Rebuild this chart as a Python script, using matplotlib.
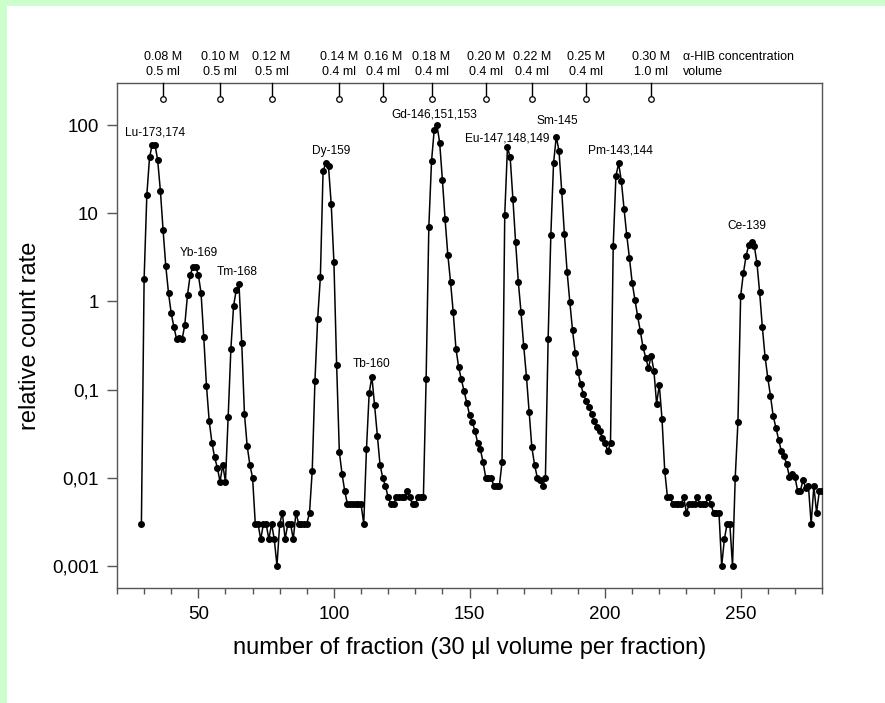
import matplotlib
matplotlib.use('Agg')
import matplotlib.pyplot as plt
import matplotlib.transforms as mtransforms
from matplotlib.patches import Rectangle

plt.rcParams['font.family'] = ['Liberation Sans', 'DejaVu Sans']

# ---------------- data ----------------
fractions = list(range(29, 281))
count_rate = [
    0.003, 1.8, 16, 43, 60, 60, 40, 18, 6.4, 2.5,                 # 29-38
    1.24, 0.73, 0.51, 0.37, 0.38, 0.37, 0.54, 1.18, 2.0, 2.45,     # 39-48
    2.45, 2.0, 1.24, 0.39, 0.11, 0.044, 0.025, 0.017, 0.013, 0.009,  # 49-58
    0.014, 0.009, 0.049, 0.29, 0.89, 1.36, 1.56, 0.34, 0.053, 0.023,  # 59-68
    0.014, 0.010, 0.003, 0.003, 0.002, 0.003, 0.003, 0.002, 0.003, 0.002,  # 69-78
    0.001, 0.003, 0.004, 0.002, 0.003, 0.003, 0.002, 0.004, 0.003, 0.003,  # 79-88
    0.003, 0.003, 0.004, 0.012, 0.125, 0.63, 1.88, 30, 37, 34,     # 89-98
    12.7, 2.77, 0.19, 0.0195, 0.011, 0.007, 0.005, 0.005, 0.005, 0.005,  # 99-108
    0.005, 0.005, 0.003, 0.021, 0.091, 0.14, 0.066, 0.030, 0.014, 0.010,  # 109-118
    0.008, 0.006, 0.005, 0.005, 0.006, 0.006, 0.006, 0.006, 0.007, 0.006,  # 119-128
    0.005, 0.005, 0.006, 0.006, 0.006, 0.13, 7.0, 39, 89, 100,     # 129-138
    63, 24, 8.5, 3.4, 1.67, 0.75, 0.29, 0.18, 0.13, 0.096,         # 139-148
    0.071, 0.052, 0.043, 0.034, 0.025, 0.021, 0.015, 0.010, 0.010, 0.010,  # 149-158
    0.008, 0.008, 0.008, 0.015, 9.6, 56, 43, 14.6, 4.7, 1.67,      # 159-168
    0.75, 0.31, 0.14, 0.055, 0.022, 0.014, 0.010, 0.0095, 0.008, 0.010,  # 169-178
    0.375, 5.7, 37, 74, 51, 18, 5.8, 2.17, 0.98, 0.47,             # 179-188
    0.26, 0.16, 0.115, 0.089, 0.074, 0.063, 0.053, 0.044, 0.038, 0.034,  # 189-198
    0.028, 0.0246, 0.020, 0.0246, 4.25, 26.4, 36.8, 23.2, 11.2, 5.6,  # 199-208
    3.08, 1.62, 1.04, 0.68, 0.46, 0.30, 0.23, 0.174, 0.243, 0.164,  # 209-218
    0.069, 0.113, 0.046, 0.012, 0.006, 0.006, 0.005, 0.005, 0.005, 0.005,  # 219-228
    0.006, 0.004, 0.005, 0.005, 0.005, 0.006, 0.005, 0.005, 0.005, 0.006,  # 229-238
    0.005, 0.004, 0.004, 0.004, 0.001, 0.002, 0.003, 0.003, 0.001, 0.010,  # 239-248
    0.043, 1.15, 2.08, 3.27, 4.37, 4.75, 4.3, 2.75, 1.27, 0.51,    # 249-258
    0.236, 0.136, 0.085, 0.050, 0.037, 0.027, 0.020, 0.0174, 0.0142, 0.0101,  # 259-268
    0.0109, 0.0103, 0.0071, 0.0071, 0.0093, 0.0077, 0.008, 0.003, 0.008, 0.004,  # 269-278
    0.007, 0.007,                                                   # 279-280
]

peak_names = ['Lu-173,174', 'Yb-169', 'Tm-168', 'Dy-159', 'Tb-160',
              'Gd-146,151,153', 'Eu-147,148,149', 'Sm-145', 'Pm-143,144', 'Ce-139']
peak_fractions = [33, 48, 65, 97, 114, 138, 164, 182, 205, 254]

step_fractions = [37, 58, 77, 102, 118, 136, 156, 173, 193, 217]
concentrations = ['0.08 M', '0.10 M', '0.12 M', '0.14 M', '0.16 M',
                  '0.18 M', '0.20 M', '0.22 M', '0.25 M', '0.30 M']
volumes = ['0.5 ml', '0.5 ml', '0.5 ml', '0.4 ml', '0.4 ml',
           '0.4 ml', '0.4 ml', '0.4 ml', '0.4 ml', '1.0 ml']

ytick_values = [0.001, 0.01, 0.1, 1, 10, 100]
ytick_labels = ['0,001', '0,01', '0,1', '1', '10', '100']

# ---------------- figure ----------------
W, H = 885, 703
fig = plt.figure(figsize=(W / 100, H / 100), dpi=100, facecolor='#ccffcc')
fig.patches.append(Rectangle((7 / W, 0), 1, 1 - 6 / H, transform=fig.transFigure,
                             facecolor='white', edgecolor='none', zorder=-10))

ax_l, ax_r, ax_t, ax_b = 117, 822, 83, 588
ax = fig.add_axes([ax_l / W, 1 - ax_b / H, (ax_r - ax_l) / W, (ax_b - ax_t) / H])
ax_h_px = ax_b - ax_t

ax.plot(fractions, count_rate, '-', color='black', lw=1.1, zorder=3)
ax.plot(fractions, count_rate, 'o', color='black', ms=4.0, zorder=4)

ax.set_yscale('log')
ax.set_xlim(20, 280)
ax.set_ylim(5.6e-4, 300)
ax.set_yticks(ytick_values)
ax.set_yticklabels(ytick_labels)
ax.yaxis.set_minor_locator(matplotlib.ticker.NullLocator())
ax.set_xticks([50, 100, 150, 200, 250])
ax.set_xticks(range(20, 281, 10), minor=True)

spine_col = '#555555'
for s in ax.spines.values():
    s.set_color(spine_col)
    s.set_linewidth(1.0)
ax.tick_params(axis='both', which='major', direction='out', length=7, width=1.0,
               color=spine_col, labelsize=13.5, pad=6, labelcolor='black')
ax.tick_params(axis='x', which='minor', direction='out', length=4.5, width=1.0,
               color=spine_col)

ax.set_xlabel('number of fraction (30 µl volume per fraction)', fontsize=17, labelpad=10)
ax.set_ylabel('relative count rate', fontsize=17, labelpad=8)

# peak labels
dx_px = [3, 5.5, -1.5, 5, 0, -3, 0, 1, 2, -4.6]
dy_px = [12, 14, 12, 12, 13, 11, 9, 15.5, 13, 16]
for name, pf, dx, dy in zip(peak_names, peak_fractions, dx_px, dy_px):
    yv = count_rate[fractions.index(pf)]
    ax.annotate(name, xy=(pf, yv), xytext=(dx * 0.72, dy * 0.72),
                textcoords='offset points', ha='center', va='center',
                fontsize=8.6, color='black')

# eluent steps at the top
trans = mtransforms.blended_transform_factory(ax.transData, ax.transAxes)
y_line_end = 1 - 13 / ax_h_px
y_circ = 1 - 16 / ax_h_px
for xf in step_fractions:
    ax.plot([xf, xf], [1.0, y_line_end], color='black', lw=1.0, transform=trans,
            clip_on=False, zorder=5)
ax.plot(step_fractions, [y_circ] * len(step_fractions), 'o', mfc='white', mec='black',
        mew=0.9, ms=4.0, transform=trans, clip_on=False, zorder=6)

y_l1 = 1 + (ax_t - 57) / ax_h_px
y_l2 = 1 + (ax_t - 72) / ax_h_px
for xf, c, v in zip(step_fractions, concentrations, volumes):
    ax.text(xf, y_l1, c, transform=trans, ha='center', va='center', fontsize=9)
    ax.text(xf, y_l2, v, transform=trans, ha='center', va='center', fontsize=9)
ax.text(228.7, y_l1, 'α-HIB concentration', transform=trans, ha='left', va='center', fontsize=9)
ax.text(228.7, y_l2, 'volume', transform=trans, ha='left', va='center', fontsize=9)

fig.savefig('out.png', dpi=100, facecolor=fig.get_facecolor())
